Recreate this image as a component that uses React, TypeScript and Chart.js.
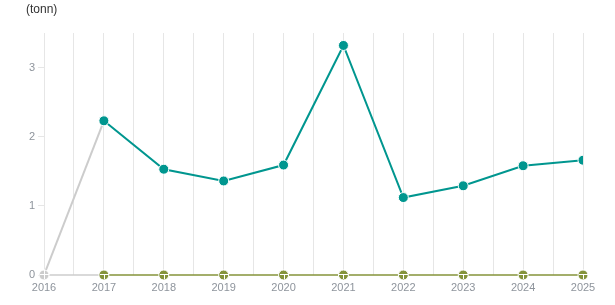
import React, { useEffect, useRef } from "react";
import { Chart, registerables } from "chart.js";

Chart.register(...registerables);

const years = [2016, 2017, 2018, 2019, 2020, 2021, 2022, 2023, 2024, 2025];
const mainValues = [0, 2.23, 1.53, 1.36, 1.59, 3.32, 1.12, 1.29, 1.58, 1.66];
const zeroValues = [0, 0, 0, 0, 0, 0, 0, 0, 0, 0];
const yTicks = [0, 1, 2, 3];
const unitLabel = "(tonn)";

const TEAL = "#00968f";
const OLIVE = "#84933a";
const GRAY = "#cccccc";

export default function App() {
  const ref = useRef<HTMLCanvasElement | null>(null);

  useEffect(() => {
    if (!ref.current) return;
    const titlePlugin = {
      id: "unitTitle",
      afterDraw(chart: any) {
        const ctx = chart.ctx;
        ctx.save();
        ctx.font = "12px Arial, 'Liberation Sans', sans-serif";
        ctx.fillStyle = "#333";
        ctx.textBaseline = "top";
        ctx.textAlign = "left";
        ctx.fillText(unitLabel, 26, 4);
        ctx.restore();
      },
    };
    const crossPlugin = {
      id: "crossMarks",
      afterDatasetsDraw(chart: any) {
        const ctx = chart.ctx;
        const meta = chart.getDatasetMeta(1);
        ctx.save();
        ctx.strokeStyle = "#ffffff";
        ctx.lineWidth = 1;
        meta.data.forEach((pt: any, i: number) => {
          const x = Math.round(pt.x) + 0.5;
          const y = Math.round(pt.y) - 0.5;
          ctx.beginPath();
          ctx.moveTo(x - 4.5, y);
          ctx.lineTo(x + 4.5, y);
          ctx.moveTo(x, y);
          ctx.lineTo(x, y + 4.5);
          if (i === 0) {
            ctx.moveTo(x, y);
            ctx.lineTo(x, y - 4.5);
          }
          ctx.stroke();
        });
        ctx.restore();
      },
    };
    const chart = new Chart(ref.current, {
      type: "line",
      data: {
        datasets: [
          {
            data: years.map((y, i) => ({ x: y, y: mainValues[i] })),
            borderColor: TEAL,
            backgroundColor: years.map((_, i) => (i === 0 ? GRAY : TEAL)),
            pointBorderColor: "#ffffff",
            pointBorderWidth: 1,
            pointRadius: 5,
            borderWidth: 2,
            tension: 0,
            segment: {
              borderColor: (c: any) => (c.p0DataIndex === 0 ? GRAY : TEAL),
            },
          },
          {
            data: years.map((y, i) => ({ x: y, y: zeroValues[i] })),
            borderColor: OLIVE,
            backgroundColor: years.map((_, i) => (i === 0 ? GRAY : OLIVE)),
            pointBorderColor: "#ffffff",
            pointBorderWidth: 1,
            pointRadius: 5,
            borderWidth: 1.5,
            tension: 0,
            clip: false as any,
            segment: {
              borderColor: (c: any) => (c.p0DataIndex === 0 ? GRAY : OLIVE),
            },
          },
        ],
      },
      options: {
        animation: false,
        responsive: false,
        maintainAspectRatio: false,
        layout: { padding: { top: 33, right: 32, left: 0, bottom: 0 } },
        plugins: { legend: { display: false }, tooltip: { enabled: false } },
        scales: {
          x: {
            type: "linear",
            min: 2016,
            max: 2025,
            offset: false,
            border: { display: false },
            grid: { color: "#e6e6e6", drawTicks: false, lineWidth: 1 },
            afterBuildTicks(scale: any) {
              const t: any[] = [];
              for (let v = 2016; v <= 2025.001; v += 0.5) t.push({ value: v });
              scale.ticks = t;
            },
            ticks: {
              autoSkip: false,
              maxRotation: 0,
              padding: 6,
              color: "#8e949c",
              font: { size: 11, family: "Arial, 'Liberation Sans', sans-serif" },
              callback: (v: any) => (Number.isInteger(v) ? String(v) : ""),
            },
            afterFit(scale: any) {
              scale.height = 30;
            },
          },
          y: {
            min: 0,
            max: 3.5,
            border: { display: false },
            grid: { drawOnChartArea: false, drawTicks: true, tickLength: 6, color: "#e6e6e6" },
            afterBuildTicks(scale: any) {
              scale.ticks = yTicks.map((v) => ({ value: v }));
            },
            ticks: {
              padding: 3,
              color: "#8e949c",
              font: { size: 11, family: "Arial, 'Liberation Sans', sans-serif" },
            },
            afterFit(scale: any) {
              scale.width = 44;
            },
          },
        },
      },
      plugins: [titlePlugin, crossPlugin],
    });
    return () => chart.destroy();
  }, []);

  return (
    <div style={{ position: "fixed", left: 0, top: 0, width: 615, height: 305, background: "#fff" }}>
      <canvas ref={ref} width={615} height={305} style={{ width: 615, height: 305, display: "block" }} />
    </div>
  );
}
